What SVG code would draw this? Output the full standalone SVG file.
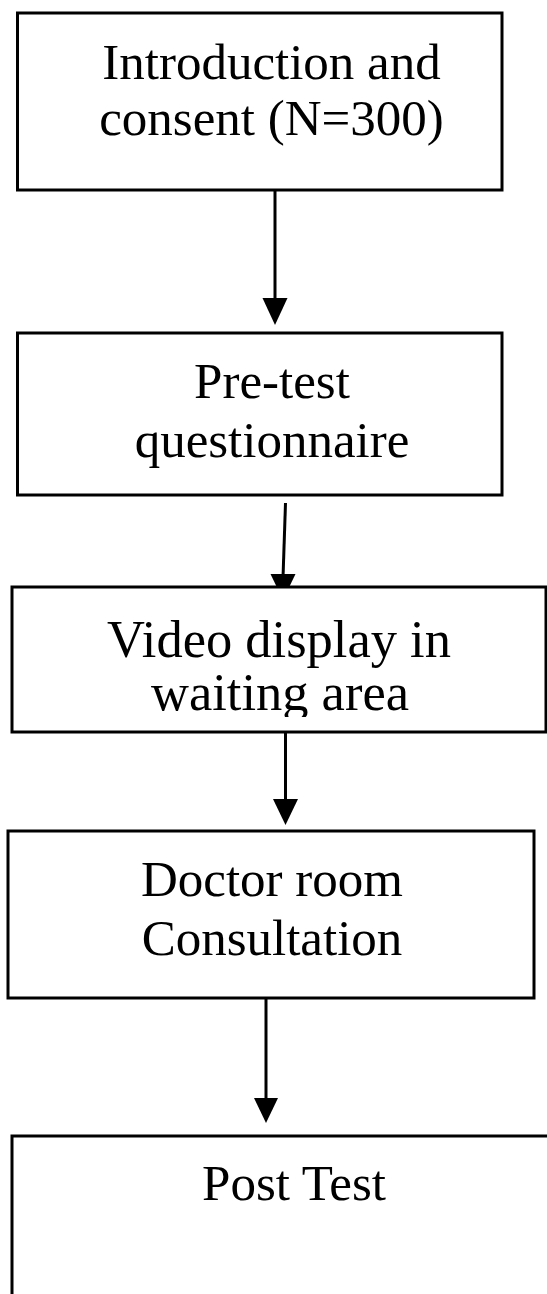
<svg xmlns="http://www.w3.org/2000/svg" width="547" height="1294" viewBox="0 0 547 1294">
<style>
.box{fill:#fff;stroke:#000;stroke-width:3}
.lbl{font-family:"Liberation Serif","Times New Roman",serif;font-size:51px;fill:#000;text-anchor:middle}
.big{font-size:52.5px}
.conn line{stroke:#000;stroke-width:3}
.conn polygon{fill:#000}
</style>
<defs>
<clipPath id="clip3"><rect x="0" y="587" width="547" height="130"/></clipPath>
</defs>
<rect width="547" height="1294" fill="#fff"/>
<g id="connectors" class="conn">
<line x1="275" y1="188" x2="275" y2="300"/>
<polygon points="262.5,298 287.5,298 275,325"/>
<line x1="285.5" y1="503" x2="283" y2="578"/>
<polygon points="270.5,574 295.5,574 283,600"/>
<line x1="285.5" y1="730" x2="285.5" y2="802"/>
<polygon points="273,799 298,799 285.5,825"/>
<line x1="266" y1="996" x2="266" y2="1100"/>
<polygon points="254,1098 278,1098 266,1123"/>
</g>
<g id="node1">
<rect class="box" x="17.5" y="13" width="484.5" height="177"/>
<text class="lbl" x="271.5" y="79">Introduction and</text>
<text class="lbl" x="271.5" y="135">consent (N=300)</text>
</g>
<g id="node2">
<rect class="box" x="17.5" y="333" width="484.5" height="162"/>
<text class="lbl" x="272" y="398">Pre-test</text>
<text class="lbl" x="272" y="457">questionnaire</text>
</g>
<g id="node3">
<rect class="box" x="12" y="587" width="534" height="145"/>
<g clip-path="url(#clip3)">
<text class="lbl big" x="279" y="657">Video display in</text>
<text class="lbl big" x="280" y="710">waiting area</text>
</g>
</g>
<g id="node4">
<rect class="box" x="8" y="831" width="526" height="167"/>
<text class="lbl" x="272" y="896">Doctor room</text>
<text class="lbl" x="272" y="955">Consultation</text>
</g>
<g id="node5">
<rect class="box" x="12" y="1136" width="560" height="200"/>
<text class="lbl" x="294" y="1200">Post Test</text>
</g>
</svg>
